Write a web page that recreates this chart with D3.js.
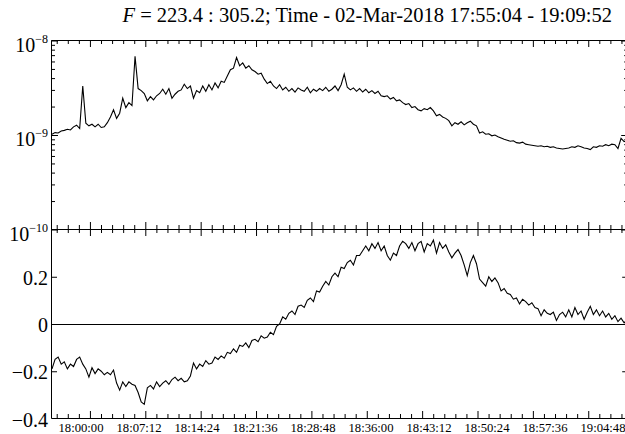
<!DOCTYPE html>
<html><head><meta charset="utf-8">
<script src="https://cdn.jsdelivr.net/npm/d3@7"></script>
<style>
body{margin:0;background:#fff}
svg{display:block}
text{font-family:"Liberation Serif","Times New Roman",serif;fill:#000}
</style>
</head><body>
<svg id="chart" width="625" height="434"></svg>
<script>
// ---- data ----
const startTime = 64504;   // 17:55:04 in seconds of day
const endTime = 68992;     // 19:09:52
const sampleStep = 24;     // seconds between samples
const fluxUnit = 1e-9;
// upper panel (units of 1e-9)
const fluxValues = [
1.02,1.06,1.05,1.1,1.12,1.15,1.13,1.22,1.27,1.17,
3.3,1.33,1.25,1.3,1.22,1.3,1.2,1.22,1.35,1.55,
1.85,1.5,1.7,2.45,1.95,2.2,2.05,6.8,3.1,2.95,
2.75,2.3,2.55,2.35,2.6,2.75,3.05,2.7,3.1,2.45,
2.7,2.9,3.0,3.45,3.1,3.3,2.45,2.95,2.8,3.3,
2.9,3.4,3.0,3.55,3.15,3.7,3.6,4.2,4.9,5.1,
6.6,5.4,5.8,5.1,5.4,4.9,4.7,4.4,4.5,3.9,
3.5,3.7,3.3,3.1,3.4,3.0,3.2,2.9,3.1,2.85,
3.15,3.0,2.9,3.2,2.8,3.05,2.9,3.1,2.95,3.2,
2.9,3.05,3.3,2.95,3.4,4.4,3.2,3.0,3.15,2.9,
3.1,2.85,3.05,2.8,2.95,2.75,2.9,2.6,2.55,2.6,
2.4,2.5,2.3,2.35,2.2,2.1,2.15,1.95,2.0,1.85,
1.8,1.9,1.85,1.95,1.8,1.6,1.65,1.55,1.5,1.42,
1.25,1.35,1.3,1.38,1.28,1.35,1.4,1.3,1.25,1.05,
1.08,1.02,1.03,0.98,1.0,0.96,0.93,0.9,0.88,0.86,
0.87,0.83,0.82,0.84,0.8,0.79,0.78,0.77,0.76,0.77,
0.75,0.76,0.74,0.75,0.73,0.72,0.71,0.72,0.73,0.75,
0.74,0.77,0.75,0.73,0.72,0.7,0.75,0.74,0.77,0.76,
0.79,0.77,0.8,0.79,0.72,0.92,0.85,0.88
];
// lower panel
const diffValues = [
-0.19,-0.15,-0.14,-0.17,-0.16,-0.19,-0.17,-0.18,-0.15,-0.14,
-0.17,-0.19,-0.225,-0.185,-0.21,-0.19,-0.2,-0.215,-0.205,-0.215,
-0.195,-0.25,-0.28,-0.245,-0.265,-0.245,-0.255,-0.26,-0.29,-0.33,
-0.34,-0.27,-0.26,-0.275,-0.245,-0.265,-0.25,-0.24,-0.255,-0.235,
-0.225,-0.24,-0.23,-0.245,-0.24,-0.22,-0.165,-0.19,-0.17,-0.18,
-0.155,-0.17,-0.165,-0.14,-0.15,-0.135,-0.145,-0.12,-0.125,-0.105,
-0.12,-0.09,-0.095,-0.08,-0.1,-0.07,-0.065,-0.075,-0.05,-0.06,
-0.055,-0.035,-0.045,-0.01,0.0,0.03,0.02,0.045,0.055,0.04,
0.075,0.08,0.07,0.1,0.11,0.095,0.14,0.135,0.16,0.18,
0.165,0.2,0.215,0.2,0.24,0.235,0.26,0.27,0.25,0.29,
0.29,0.31,0.33,0.31,0.34,0.32,0.345,0.31,0.33,0.29,
0.27,0.3,0.29,0.33,0.35,0.34,0.32,0.345,0.31,0.34,
0.35,0.305,0.34,0.33,0.355,0.3,0.345,0.32,0.335,0.305,
0.28,0.3,0.315,0.29,0.25,0.205,0.26,0.29,0.255,0.19,
0.175,0.16,0.2,0.18,0.195,0.175,0.14,0.15,0.13,0.125,
0.105,0.11,0.085,0.105,0.095,0.08,0.09,0.07,0.065,0.035,
0.06,0.045,0.04,0.05,0.015,0.04,0.05,0.03,0.06,0.03,
0.07,0.04,0.055,0.02,0.05,0.075,0.04,0.06,0.035,0.055,
0.03,0.045,0.02,0.035,0.01,0.025,0.005,0.02
];
const xMajorStart = 64800; // 18:00:00
const xMajorStep = 432;
const xTickLabels = ["18:00:00","18:07:12","18:14:24","18:21:36","18:28:48","18:36:00","18:43:12","18:50:24","18:57:36","19:04:48"];
const topMajorTicks = [1e-8, 1e-9, 1e-10];
const topMajorExps = ["\u22128", "\u22129", "\u221210"];
const bottomTicks = [0.2, 0, -0.2, -0.4];
const bottomTickLabels = ["0.2", "0", "\u22120.2", "\u22120.4"];
const titleParts = ["F", " = 223.4 : 305.2; Time - 02-Mar-2018 17:55:04 - 19:09:52"];

// ---- layout ----
const L = 52, R = 627.2, T = 40.5, M = 229.5, B = 418.5;
const svg = d3.select("#chart");

const x = d3.scaleLinear().domain([startTime, endTime]).range([L, R]);
const yTop = d3.scaleLog().domain([1e-10, 1e-8]).range([M, T]);
const yBot = d3.scaleLinear().domain([-0.4, 0.4]).range([B, M]);
const labelPos = d3.scaleLinear().domain([0, xTickLabels.length - 1]).range([81, 603]);

const times = fluxValues.map((_, i) => startTime + i * sampleStep);
const majorX = xTickLabels.map((_, i) => xMajorStart + i * xMajorStep);
const minorStep = xMajorStep / 5;
const minorX = d3.range(xMajorStart - 3 * minorStep, endTime, minorStep)
  .filter(t => t >= startTime && !majorX.some(m => Math.abs(m - t) < 1));
const logMinor = [];
[1e-10, 1e-9].forEach(d => { for (let k = 2; k <= 9; k++) logMinor.push(k * d); });

function tickAxis(axisFn, scale, values, size, tx, ty) {
  svg.append("g").attr("transform", `translate(${tx},${ty})`)
    .call(axisFn(scale).tickValues(values).tickSize(size).tickFormat(""))
    .call(g => g.select(".domain").remove())
    .call(g => g.selectAll("line").attr("stroke", "#000"));
}

// title
const title = svg.append("text").attr("x", 612).attr("y", 22)
  .attr("text-anchor", "end").attr("font-size", 20.5);
title.append("tspan").attr("font-style", "italic").text(titleParts[0]);
title.append("tspan").text(titleParts[1]);

// data lines
svg.append("path").datum(fluxValues)
  .attr("fill", "none").attr("stroke", "#000").attr("stroke-width", 1.1)
  .attr("d", d3.line().x((d, i) => x(times[i])).y(d => yTop(d * fluxUnit)));
svg.append("path").datum(diffValues)
  .attr("fill", "none").attr("stroke", "#000").attr("stroke-width", 1.1)
  .attr("d", d3.line().x((d, i) => x(times[i])).y(d => yBot(d)));

// zero line
svg.append("line").attr("x1", L).attr("x2", R)
  .attr("y1", Math.round(yBot(0)) + 0.5).attr("y2", Math.round(yBot(0)) + 0.5)
  .attr("stroke", "#000").attr("stroke-width", 1.2);

// frame lines
[T, M, B].forEach(yy => svg.append("line").attr("x1", L - 0.5).attr("x2", R)
  .attr("y1", yy).attr("y2", yy).attr("stroke", "#000").attr("stroke-width", 1));
svg.append("line").attr("x1", L - 0.5).attr("x2", L - 0.5).attr("y1", T).attr("y2", B)
  .attr("stroke", "#000").attr("stroke-width", 1);

// x ticks
const tH = T - 0.5, mH = M - 0.5, bH = B - 0.5;
tickAxis(d3.axisBottom, x, minorX, 4, 0, tH);
tickAxis(d3.axisBottom, x, majorX, 7, 0, tH);
tickAxis(d3.axisTop, x, minorX, 4, 0, mH);
tickAxis(d3.axisTop, x, majorX, 7, 0, mH);
tickAxis(d3.axisBottom, x, minorX, 4, 0, mH);
tickAxis(d3.axisBottom, x, majorX, 7, 0, mH);
tickAxis(d3.axisTop, x, minorX, 4, 0, bH);
tickAxis(d3.axisTop, x, majorX, 7, 0, bH);

// y ticks top panel
tickAxis(d3.axisRight, yTop, logMinor, 4, L - 1, 0);
tickAxis(d3.axisRight, yTop, topMajorTicks, 7, L - 1, 0);
tickAxis(d3.axisLeft, yTop, logMinor, 3, R, 0);
tickAxis(d3.axisLeft, yTop, topMajorTicks, 6, R, 0);
// y ticks bottom panel
tickAxis(d3.axisRight, yBot, bottomTicks.slice(0, 3), 6, L - 1, 0);
tickAxis(d3.axisLeft, yBot, bottomTicks.slice(0, 3), 5, R, 0);

// y labels top
topMajorTicks.forEach((v, i) => {
  const t = svg.append("text").attr("x", 48).attr("y", yTop(v) + 11)
    .attr("text-anchor", "end").attr("font-size", 20);
  t.append("tspan").text("10");
  t.append("tspan").attr("dy", -9).attr("font-size", 12).text(topMajorExps[i]);
});
// y labels bottom (0.4 position is shared with 10^-10)
bottomTicks.forEach((v, i) => {
  svg.append("text").attr("x", 48).attr("y", yBot(v) + 8)
    .attr("text-anchor", "end").attr("font-size", 20).text(bottomTickLabels[i]);
});
// x labels
xTickLabels.forEach((lab, i) => {
  svg.append("text").attr("x", labelPos(i)).attr("y", 432)
    .attr("text-anchor", "middle").attr("font-size", 12.7).text(lab);
});
</script>
</body></html>
